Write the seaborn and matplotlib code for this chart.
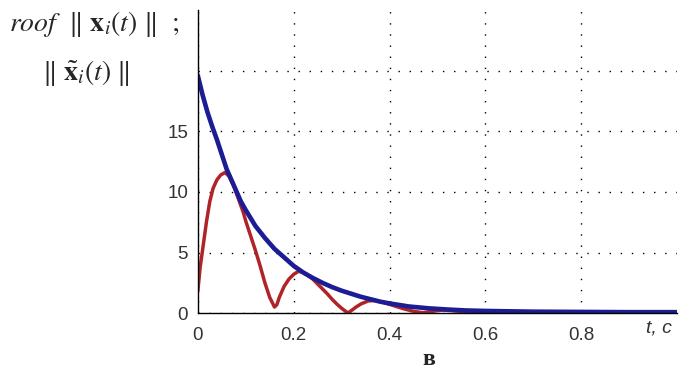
import matplotlib
matplotlib.use("Agg")
import matplotlib.pyplot as plt
import seaborn as sns

# envelope |x~_i(t)| (blue)
t_blue = [0.0, 0.01, 0.02, 0.03, 0.04, 0.05, 0.06, 0.07, 0.08, 0.09, 0.10,
          0.12, 0.14, 0.16, 0.18, 0.20, 0.22, 0.24, 0.26, 0.28, 0.30, 0.32,
          0.34, 0.36, 0.38, 0.40, 0.44, 0.48, 0.52, 0.56, 0.60, 0.70, 0.80,
          0.90, 1.0]
blue = [19.6, 18.0, 16.6, 15.4, 14.3, 13.1, 11.9, 11.0, 10.1, 9.2, 8.5,
        7.2, 6.2, 5.3, 4.6, 3.9, 3.35, 2.9, 2.5, 2.15, 1.85, 1.6,
        1.35, 1.15, 0.95, 0.8, 0.55, 0.4, 0.3, 0.22, 0.18, 0.12, 0.1,
        0.08, 0.08]

# |x_i(t)| (red)
t_red = [0.0, 0.005, 0.011, 0.018, 0.025, 0.032, 0.04, 0.048, 0.057, 0.065,
         0.075, 0.085, 0.095, 0.10, 0.11, 0.12, 0.13, 0.14, 0.15, 0.16,
         0.165, 0.17, 0.18, 0.19, 0.20, 0.21, 0.22, 0.23, 0.24, 0.25, 0.26,
         0.27, 0.28, 0.29, 0.30, 0.31, 0.315, 0.32, 0.33, 0.34, 0.355, 0.37,
         0.39, 0.41, 0.43, 0.45, 0.47, 0.49, 0.51, 0.53, 0.56, 0.60, 0.70, 1.0]
red = [1.8, 3.8, 5.5, 7.5, 9.2, 10.3, 11.0, 11.4, 11.6, 11.3,
       10.5, 9.4, 8.3, 7.6, 6.4, 5.2, 3.9, 2.5, 1.3, 0.5,
       0.7, 1.3, 2.2, 2.8, 3.2, 3.45, 3.35, 3.1, 2.8, 2.4, 2.0,
       1.6, 1.15, 0.75, 0.4, 0.1, 0.05, 0.2, 0.5, 0.75, 1.0, 1.05,
       0.85, 0.6, 0.35, 0.15, 0.03, 0.15, 0.25, 0.2, 0.1, 0.05, 0.02, 0.0]

x_ticks = [0, 0.2, 0.4, 0.6, 0.8]
x_labels = ["0", "0.2", "0.4", "0.6", "0.8"]
y_ticks = [0, 5, 10, 15, 20]
y_labels = ["0", "5", "10", "15", ""]

sns.set_style("white")
plt.rcParams["mathtext.fontset"] = "stix"
plt.rcParams["font.family"] = ["Liberation Sans", "DejaVu Sans"]

fig = plt.figure(figsize=(6.82, 3.71), dpi=100)
ax = fig.add_axes([0.290, 0.156, 0.703, 0.817])

sns.lineplot(x=t_red, y=red, ax=ax, color="#b02428", linewidth=2.5, sort=False)
sns.lineplot(x=t_blue, y=blue, ax=ax, color="#1c1c94", linewidth=3.3, sort=False)

ax.set_xlim(0, 1.0)
ax.set_ylim(0, 25)
ax.set_xticks(x_ticks)
ax.set_xticklabels(x_labels)
ax.set_yticks(y_ticks)
ax.set_yticklabels(y_labels)
ax.tick_params(direction="in", length=4, width=0.8, colors="black",
               labelcolor="#333333", labelsize=13.5)
ax.tick_params(axis="x", pad=10)
ax.tick_params(axis="y", pad=7)
ax.grid(True, color="black", linestyle=(0, (1, 7)), linewidth=1.0)

for side in ["top", "right"]:
    ax.spines[side].set_visible(False)
for side in ["left", "bottom"]:
    ax.spines[side].set_color("black")
    ax.spines[side].set_linewidth(1.0)

fig.text(0.013, 0.935, r"$roof\ \ \|\ \mathbf{x}_i(t)\ \|\ \ ;$", fontsize=20,
         ha="left", va="center")
fig.text(0.062, 0.802, r"$\|\ \tilde{\mathbf{x}}_i(t)\ \|$", fontsize=20,
         ha="left", va="center")
fig.text(0.966, 0.115, "t, c", fontsize=14, style="italic", color="#333333",
         ha="center", va="center")
fig.text(0.629, 0.030, "в", fontsize=17, fontweight="bold",
         family=["Liberation Serif", "DejaVu Serif"], ha="center", va="center")

fig.savefig("out.png", dpi=100)
